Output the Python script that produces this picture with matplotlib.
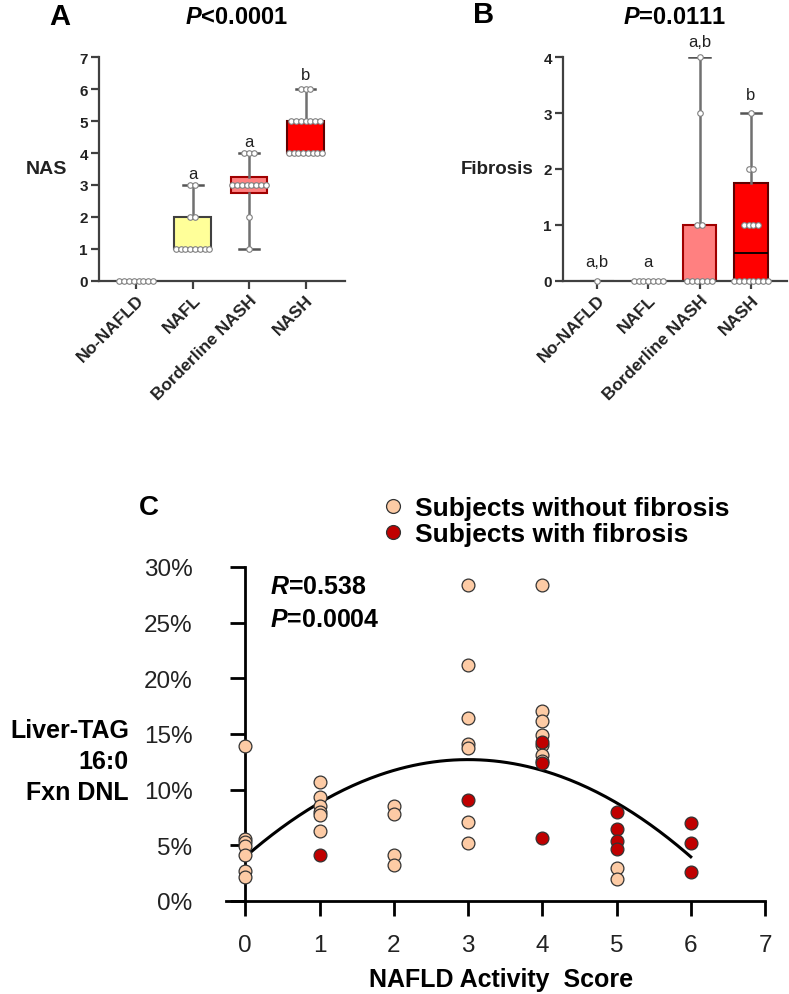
import numpy as np
import matplotlib
matplotlib.use('Agg')
from matplotlib import pyplot as plt
from matplotlib.lines import Line2D

plt.rcParams['font.family'] = ['Liberation Sans', 'DejaVu Sans']
plt.rcParams['mathtext.fontset'] = 'custom'
plt.rcParams['mathtext.bfit'] = 'Liberation Sans:italic:bold'
plt.rcParams['mathtext.it'] = 'Liberation Sans:italic:bold'

W, H = 789, 995

# ---- data ----
groups = ['No-NAFLD', 'NAFL', 'Borderline NASH', 'NASH']

# panel A: NAS per group (individual scores)
nas_no_nafld = [0, 0, 0, 0, 0, 0, 0, 0]
nas_nafl = [1, 1, 1, 1, 1, 1, 1, 1, 2, 2, 3, 3]
nas_borderline = [1, 2, 3, 3, 3, 3, 3, 3, 3, 3, 4, 4, 4]
nas_nash = [4, 4, 4, 4, 4, 4, 4, 4, 5, 5, 5, 5, 5, 5, 5, 6, 6, 6]
nas_q1 = [0, 1, 2.75, 4]
nas_med = [0, 1, 3, 4]
nas_q3 = [0, 2, 3.25, 5]
nas_lo = [0, 1, 1, 4]
nas_hi = [0, 3, 4, 6]
nas_letters = ['', 'a', 'a', 'b']
nas_letter_y = [0, 3.22, 4.22, 6.3]

# panel B: fibrosis stage per group
fib_no_nafld = [0]
fib_nafl = [0, 0, 0, 0, 0, 0, 0]
fib_borderline = [0, 0, 0, 0, 0, 0, 1, 1, 3, 4]
fib_nash = [0, 0, 0, 0, 0, 0, 0, 0, 1, 1, 1, 1, 2, 2, 3]
fib_q1 = [0, 0, 0, 0]
fib_med = [0, 0, 0, 0.5]
fib_q3 = [0, 0, 1, 1.75]
fib_lo = [0, 0, 0, 0]
fib_hi = [0, 0, 4, 3]
fib_letters = ['a,b', 'a', 'a,b', 'b']
fib_letter_y = [0.27, 0.27, 4.2, 3.25]

# panel C: liver TAG 16:0 fractional DNL (%) vs NAS
nofib_nas = [0, 0, 0, 0, 0, 0, 0,
             1, 1, 1, 1, 1, 1,
             2, 2, 2, 2,
             3, 3, 3, 3, 3, 3, 3,
             4, 4, 4, 4, 4, 4, 4,
             5, 5]
nofib_dnl = [13.9, 5.6, 5.3, 4.9, 4.1, 2.7, 2.2,
             10.7, 9.3, 8.5, 8.0, 7.7, 6.3,
             8.5, 7.8, 4.1, 3.2,
             28.4, 21.2, 16.4, 14.1, 13.7, 7.1, 5.2,
             28.4, 17.1, 16.2, 14.9, 14.0, 13.1, 12.6,
             3.0, 2.0]
fib_nas_c = [1, 3, 4, 4, 4, 5, 5, 5, 5, 6, 6, 6]
fib_dnl_c = [4.1, 9.1, 14.3, 12.4, 5.7, 8.0, 6.5, 5.4, 4.7, 7.0, 5.2, 2.6]
fit_coef = [-0.97, 5.82, 3.97]   # quadratic fit, % = a*x^2 + b*x + c
fit_range = [0, 6]
r_text = '0.538'
p_text_c = '0.0004'

# ---- styles ----
box_fill = ['white', '#FFFF99', '#FF8080', '#FF0000']
box_edge = ['#404040', '#404040', '#A00000', '#600000']
axis_col = '#404040'
peach = '#FDCBA5'
dark_red = '#C00000'

fig = plt.figure(figsize=(W / 100, H / 100), dpi=100)


def frac_box(x0, y0, x1, y1):
    # pixel box -> figure fraction [left, bottom, width, height]
    return [x0 / W, 1 - y1 / H, (x1 - x0) / W, (y1 - y0) / H]


def add_dots(ax, pos, values, step):
    vals, counts = np.unique(values, return_counts=True)
    for v, n in zip(vals, counts):
        offs = (np.arange(n) - (n - 1) / 2) * step
        ax.scatter(pos + offs, np.full(n, v), s=16, facecolor='white',
                   edgecolor='#808080', linewidth=0.8, zorder=5, clip_on=False)


def box_panel(ax, q1, med, q3, lo, hi, points, letters, letter_y, ymax, step, capw):
    stats = [dict(q1=a, med=m, q3=b, whislo=l, whishi=h, fliers=[])
             for a, m, b, l, h in zip(q1, med, q3, lo, hi)]
    bp = ax.bxp(stats, positions=range(len(stats)), widths=0.65, patch_artist=True,
                showfliers=False, capwidths=capw,
                whiskerprops=dict(color='#707070', linewidth=1.8),
                capprops=dict(color='#555555', linewidth=1.8),
                medianprops=dict(color='black', linewidth=1.3))
    for patch, fc, ec in zip(bp['boxes'], box_fill, box_edge):
        patch.set_facecolor(fc)
        patch.set_edgecolor(ec)
        patch.set_linewidth(1.5)
    for i, vals in enumerate(points):
        add_dots(ax, i, vals, step)
    for i, (t, y) in enumerate(zip(letters, letter_y)):
        if t:
            ax.text(i, y, t, ha='center', va='baseline', fontsize=12, color='#222222')
    ax.set_xlim(-0.66, 3.7)
    ax.set_ylim(0, ymax)
    ax.set_yticks(range(ymax + 1))
    ax.set_xticks(range(4))
    ax.set_xticklabels(groups, rotation=45, ha='right', rotation_mode='anchor',
                       fontsize=12.5, fontweight='bold', color='#222222')
    for lab in ax.get_yticklabels():
        lab.set_fontsize(11)
        lab.set_fontweight('bold')
        lab.set_color('#222222')
    for s in ['top', 'right']:
        ax.spines[s].set_visible(False)
    for s in ['left', 'bottom']:
        ax.spines[s].set_color(axis_col)
        ax.spines[s].set_linewidth(1.6)
    ax.tick_params(axis='both', direction='out', length=6, width=1.6, color=axis_col, pad=2)


# ---- panel A ----
axA = fig.add_axes(frac_box(99, 58, 345, 282))
box_panel(axA, nas_q1, nas_med, nas_q3, nas_lo, nas_hi,
          [nas_no_nafld, nas_nafl, nas_borderline, nas_nash],
          nas_letters, nas_letter_y, 7, 0.085, 0.35)
fig.text(60 / W, 1 - 17 / H, 'A', fontsize=21, fontweight='bold', ha='center', va='center')
fig.text(237 / W, 1 - 17 / H, r'$\mathbfit{P}$<0.0001', fontsize=17, fontweight='bold',
         ha='center', va='center')
fig.text(46 / W, 1 - 170 / H, 'NAS', fontsize=14, fontweight='bold', ha='center', va='center',
         color='#222222')

# ---- panel B ----
axB = fig.add_axes(frac_box(563, 58, 787, 282))
box_panel(axB, fib_q1, fib_med, fib_q3, fib_lo, fib_hi,
          [fib_no_nafld, fib_nafl, fib_borderline, fib_nash],
          fib_letters, fib_letter_y, 4, 0.095, 0.4)
fig.text(484 / W, 1 - 15 / H, 'B', fontsize=21, fontweight='bold', ha='center', va='center')
fig.text(675 / W, 1 - 17 / H, r'$\mathbfit{P}$=0.0111', fontsize=17, fontweight='bold',
         ha='center', va='center')
fig.text(533 / W, 1 - 170 / H, 'Fibrosis', fontsize=13.5, fontweight='bold', ha='right',
         va='center', color='#222222')

# ---- panel C ----
axC = fig.add_axes(frac_box(226, 568, 765, 902))
axC.scatter(nofib_nas, nofib_dnl, s=85, facecolor=peach, edgecolor='#333333',
            linewidth=0.9, zorder=4, clip_on=False)
axC.scatter(fib_nas_c, fib_dnl_c, s=85, facecolor=dark_red, edgecolor='#333333',
            linewidth=0.9, zorder=4, clip_on=False)
xs = np.linspace(fit_range[0], fit_range[1], 200)
axC.plot(xs, np.polyval(fit_coef, xs), color='black', linewidth=2.2, zorder=3)
axC.set_xlim(-0.26, 7)
axC.set_ylim(0, 30)
axC.set_xticks(range(8))
axC.set_yticks(range(0, 31, 5))
axC.set_yticklabels([f'{v}%' for v in range(0, 31, 5)])
axC.spines['left'].set_position(('data', 0))
for s in ['top', 'right']:
    axC.spines[s].set_visible(False)
for s in ['left', 'bottom']:
    axC.spines[s].set_linewidth(2)
axC.tick_params(axis='y', direction='out', length=11, width=2, pad=27, labelsize=17.5,
                labelcolor='#222222')
axC.tick_params(axis='x', direction='out', length=11, width=2, pad=13, labelsize=17.5,
                labelcolor='#222222')
axC.text(0.082, 0.943, r'$\mathbfit{R}$=' + r_text, transform=axC.transAxes, fontsize=18,
         fontweight='bold', va='center', ha='left')
axC.text(0.082, 0.844, r'$\mathbfit{P}$=' + p_text_c, transform=axC.transAxes, fontsize=18,
         fontweight='bold', va='center', ha='left')

handles = [Line2D([], [], marker='o', linestyle='none', markersize=10,
                  markerfacecolor=peach, markeredgecolor='#333333', markeredgewidth=0.9),
           Line2D([], [], marker='o', linestyle='none', markersize=10,
                  markerfacecolor=dark_red, markeredgecolor='#333333', markeredgewidth=0.9)]
fig.legend(handles, ['Subjects without fibrosis', 'Subjects with fibrosis'],
           loc='upper left', bbox_to_anchor=(381 / W, 1 - 497 / H), frameon=False,
           handlelength=0.9, handletextpad=0.4, labelspacing=0.08, borderpad=0,
           borderaxespad=0, prop=dict(size=19, weight='bold'))

fig.text(149 / W, 1 - 508 / H, 'C', fontsize=20, fontweight='bold', ha='center', va='center')
fig.text(129 / W, 1 - 762 / H, 'Liver-TAG\n16:0\nFxn DNL', fontsize=18, fontweight='bold',
         ha='right', va='center', multialignment='right', linespacing=1.38)
fig.text(501 / W, 1 - 980 / H, 'NAFLD Activity  Score', fontsize=18, fontweight='bold',
         ha='center', va='center')

fig.savefig('out.png', dpi=100)
